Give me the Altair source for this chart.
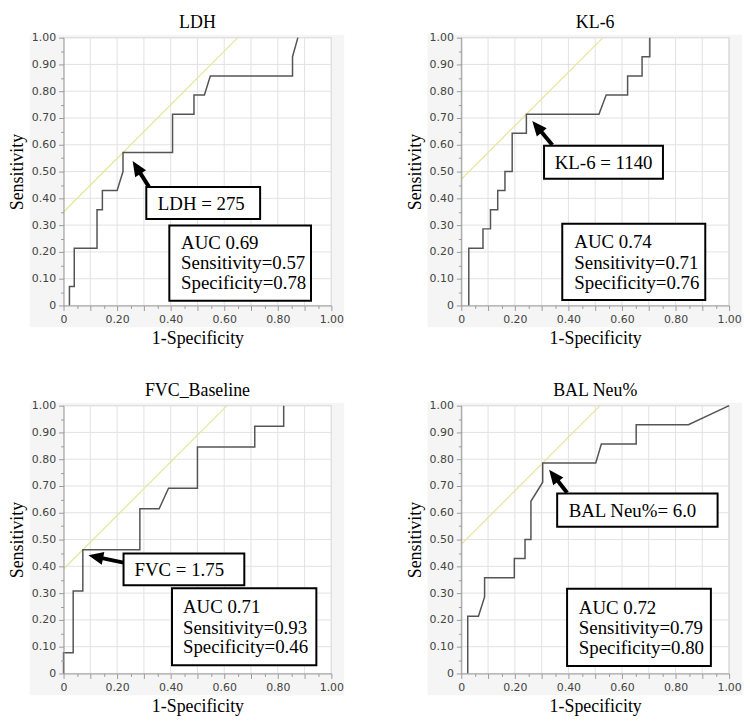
import math
import altair as alt
import pandas as pd

SERIF = "Liberation Serif"
SANS = "DejaVu Sans"

# ---- ROC curves: 1-Specificity (x) and Sensitivity (y) ----
ldh_x = [0.022, 0.022, 0.040, 0.040, 0.125, 0.125, 0.145, 0.145, 0.200, 0.222,
         0.222, 0.407, 0.407, 0.487, 0.487, 0.526, 0.548, 0.855, 0.855, 0.875]
ldh_y = [0.000, 0.071, 0.071, 0.214, 0.214, 0.357, 0.357, 0.429, 0.429, 0.500,
         0.571, 0.571, 0.714, 0.714, 0.786, 0.786, 0.857, 0.857, 0.929, 1.000]

kl6_x = [0.028, 0.028, 0.081, 0.081, 0.109, 0.109, 0.136, 0.136, 0.163, 0.163, 0.190,
         0.190, 0.243, 0.243, 0.514, 0.541, 0.621, 0.621, 0.675, 0.675, 0.704, 0.704]
kl6_y = [0.000, 0.214, 0.214, 0.286, 0.286, 0.357, 0.357, 0.429, 0.429, 0.500, 0.500,
         0.643, 0.643, 0.714, 0.714, 0.786, 0.786, 0.857, 0.857, 0.929, 0.929, 1.000]

fvc_x = [0.000, 0.000, 0.036, 0.036, 0.072, 0.072, 0.285, 0.285, 0.357, 0.392,
         0.500, 0.500, 0.714, 0.714, 0.822, 0.822]
fvc_y = [0.000, 0.077, 0.077, 0.308, 0.308, 0.462, 0.462, 0.615, 0.615, 0.692,
         0.692, 0.846, 0.846, 0.923, 0.923, 1.000]

bal_x = [0.024, 0.024, 0.064, 0.087, 0.087, 0.198, 0.198, 0.238, 0.238, 0.260,
         0.260, 0.304, 0.304, 0.502, 0.523, 0.653, 0.653, 0.848, 1.000]
bal_y = [0.000, 0.214, 0.214, 0.286, 0.357, 0.357, 0.429, 0.429, 0.500, 0.500,
         0.643, 0.714, 0.786, 0.786, 0.857, 0.857, 0.929, 0.929, 1.000]

# Tangent (Youden) line intercepts
intercepts = {"LDH": 0.349, "KL-6": 0.471, "FVC_Baseline": 0.390, "BAL Neu%": 0.482}

# Annotation texts
cut_labels = {"LDH": "LDH = 275", "KL-6": "KL-6 = 1140",
              "FVC_Baseline": "FVC = 1.75", "BAL Neu%": "BAL Neu%= 6.0"}
auc_lines = {
    "LDH": ["AUC 0.69", "Sensitivity=0.57", "Specificity=0.78"],
    "KL-6": ["AUC 0.74", "Sensitivity=0.71", "Specificity=0.76"],
    "FVC_Baseline": ["AUC 0.71", "Sensitivity=0.93", "Specificity=0.46"],
    "BAL Neu%": ["AUC 0.72", "Sensitivity=0.79", "Specificity=0.80"],
}

# Annotation placement (data coordinates of each panel)
layout = {
    "LDH": dict(cut_box=(0.309, 0.734, 0.323, 0.442), cut_text=(0.352, 0.380),
                auc_box=(0.395, 0.924, 0.018, 0.299), auc_text=(0.439, [0.234, 0.157, 0.083]),
                arrow=((0.319, 0.443), (0.258, 0.539))),
    "KL-6": dict(cut_box=(0.309, 0.753, 0.473, 0.596), cut_text=(0.349, 0.532),
                 auc_box=(0.377, 0.911, 0.020, 0.305), auc_text=(0.422, [0.237, 0.159, 0.084]),
                 arrow=((0.340, 0.599), (0.265, 0.689))),
    "FVC_Baseline": dict(cut_box=(0.224, 0.675, 0.329, 0.448), cut_text=(0.265, 0.386),
                         auc_box=(0.405, 0.944, 0.031, 0.318), auc_text=(0.446, [0.248, 0.171, 0.097]),
                         arrow=((0.224, 0.414), (0.093, 0.441))),
    "BAL Neu%": dict(cut_box=(0.358, 0.957, 0.548, 0.672), cut_text=(0.401, 0.607),
                     auc_box=(0.395, 0.932, 0.028, 0.316), auc_text=(0.439, [0.245, 0.168, 0.094]),
                     arrow=((0.395, 0.675), (0.328, 0.761))),
}

SIZE = 270
grid_vals = [round(i * 0.1, 1) for i in range(11)]
tick_vals = [round(i * 0.05, 2) for i in range(21)]

TICK_SIZE = {"condition": {"test": "round(datum.value * 100) % 10 == 0", "value": 5}, "value": 3}

AX_STYLE = dict(
    grid=False, labelOverlap=False, labelFlush=False, tickSize=TICK_SIZE, zindex=1,
    labelFont=SANS, labelFontSize=11, labelColor="#444444",
    titleFont=SERIF, titleFontSize=18, titleFontWeight="normal", titleColor="black",
    domainColor="#9a9a9a", tickColor="#9a9a9a", labelPadding=3, titlePadding=5,
)

xaxis = alt.Axis(
    values=tick_vals, title="1-Specificity",
    labelExpr="datum.value == 0 ? '0' : (round(datum.value * 100) % 20 == 0 ? format(datum.value, '.2f') : '')",
    **AX_STYLE,
)
yaxis = alt.Axis(
    values=tick_vals, title="Sensitivity",
    labelExpr="datum.value == 0 ? '0' : (round(datum.value * 100) % 10 == 0 ? format(datum.value, '.2f') : '')",
    **AX_STYLE,
)
xsc = alt.Scale(domain=[0, 1], nice=False)
ysc = alt.Scale(domain=[0, 1], nice=False)


def X(f="x"):
    return alt.X(f"{f}:Q", scale=xsc, axis=xaxis)


def Y(f="y"):
    return alt.Y(f"{f}:Q", scale=ysc, axis=yaxis)


HEAD = "M0,0L0.65,1.5L-0.65,1.5Z"
one = pd.DataFrame({"a": [0]})
grid_df = pd.DataFrame({"x": grid_vals, "y": grid_vals})


def panel(name, xs, ys):
    lay = layout[name]
    curve = pd.DataFrame({"x": xs, "y": ys, "i": list(range(len(xs)))})
    b = intercepts[name]
    diag = pd.DataFrame({"x": [0.0, 1.0 - b], "y": [b, 1.0]})

    cb, ab = lay["cut_box"], lay["auc_box"]
    boxes = pd.DataFrame({"x": [cb[0], ab[0]], "x2": [cb[1], ab[1]],
                          "y": [cb[2], ab[2]], "y2": [cb[3], ab[3]]})
    tx, ty = lay["cut_text"]
    ax, ays = lay["auc_text"]
    texts = pd.DataFrame({"x": [tx] + [ax] * 3, "y": [ty] + ays,
                          "t": [cut_labels[name]] + auc_lines[name]})

    (t0x, t0y), (t1x, t1y) = lay["arrow"]
    dx, dy = t1x - t0x, t1y - t0y
    L = math.hypot(dx, dy)
    back = 9.0 / SIZE
    sx, sy = t1x - dx / L * back, t1y - dy / L * back
    rule = pd.DataFrame({"x": [t0x], "y": [t0y], "x2": [sx], "y2": [sy]})
    head = pd.DataFrame({"x": [t1x], "y": [t1y]})
    ang = (math.degrees(math.atan2(dx, dy)) + 360) % 360

    l_bg = alt.Chart(one).mark_rect(fill="#f5f5f5", clip=False).encode(
        x=alt.value(-34), x2=alt.value(SIZE + 13), y=alt.value(-3), y2=alt.value(SIZE + 22))
    l_plot = alt.Chart(one).mark_rect(fill="white", stroke="#c4c4c4", strokeWidth=1).encode(
        x=alt.value(0), x2=alt.value(SIZE), y=alt.value(0), y2=alt.value(SIZE))
    l_vgrid = alt.Chart(grid_df).mark_rule(color="#e2e2e2", strokeWidth=1).encode(
        x=X(), y=alt.value(0), y2=alt.value(SIZE))
    l_hgrid = alt.Chart(grid_df).mark_rule(color="#e2e2e2", strokeWidth=1).encode(
        y=Y(), x=alt.value(0), x2=alt.value(SIZE))
    l_diag = alt.Chart(diag).mark_line(color="#e8e49c", strokeWidth=1.2, clip=True).encode(x=X(), y=Y())
    l_curve = alt.Chart(curve).mark_line(color="#555555", strokeWidth=1.5).encode(
        x=X(), y=Y(), order="i:Q")
    l_box = alt.Chart(boxes).mark_rect(fill="white", stroke="black", strokeWidth=2).encode(
        x=X(), x2="x2:Q", y=Y(), y2="y2:Q")
    l_text = alt.Chart(texts).mark_text(align="left", baseline="middle", font=SERIF,
                                        fontSize=19, color="black").encode(x=X(), y=Y(), text="t:N")
    l_rule = alt.Chart(rule).mark_rule(color="black", strokeWidth=4).encode(
        x=X(), y=Y(), x2="x2:Q", y2="y2:Q")
    l_head = alt.Chart(head).mark_point(shape=HEAD, filled=True, size=400, color="black",
                                        opacity=1, strokeWidth=0).encode(
        x=X(), y=Y(), angle=alt.value(ang))

    return alt.layer(l_bg, l_plot, l_vgrid, l_hgrid, l_diag, l_curve, l_box, l_text,
                     l_rule, l_head).properties(
        width=SIZE, height=SIZE,
        title=alt.TitleParams(name, font=SERIF, fontSize=18, fontWeight="normal",
                              color="black", offset=0),
    )


p1 = panel("LDH", ldh_x, ldh_y)
p2 = panel("KL-6", kl6_x, kl6_y)
p3 = panel("FVC_Baseline", fvc_x, fvc_y)
p4 = panel("BAL Neu%", bal_x, bal_y)

chart = alt.vconcat(
    alt.hconcat(p1, p2, spacing=62),
    alt.hconcat(p3, p4, spacing=62),
    spacing=35,
).properties(padding={"left": 0, "top": 3, "right": 0, "bottom": 0}).configure_view(
    stroke=None, fill=None
)

chart.save("out.html", embed_options={"renderer": "svg", "actions": False})
